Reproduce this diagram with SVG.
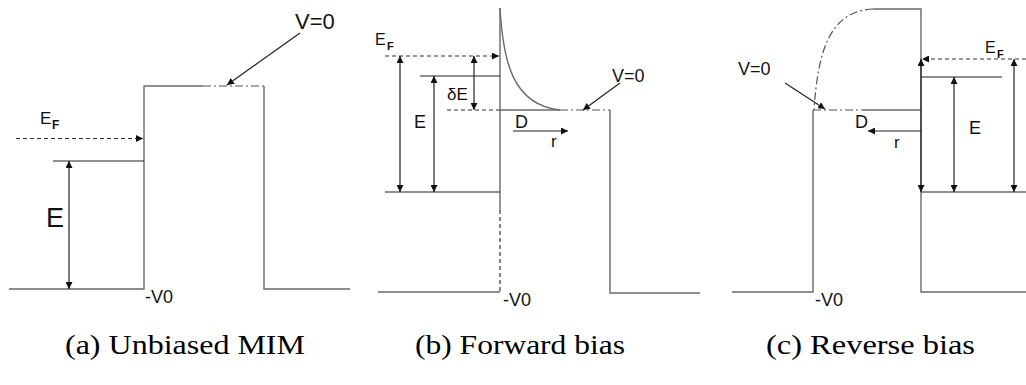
<svg xmlns="http://www.w3.org/2000/svg" width="1026" height="385" viewBox="0 0 1026 385">
<style>
.wall{fill:none;stroke:#6a6a6a;stroke-width:1.4}
.lvl{fill:none;stroke:#222;stroke-width:1.2}
.arr{fill:none;stroke:#222;stroke-width:1.2}
.dash{fill:none;stroke:#333;stroke-width:1.2;stroke-dasharray:4 3}
.dd{fill:none;stroke:#555;stroke-width:1.2;stroke-dasharray:8 3 2 3}
.lab{font-family:"Liberation Sans",Arial,sans-serif;fill:#111}
.sub{font-family:"Liberation Sans",Arial,sans-serif;font-weight:bold;fill:#111}
.cap{font-family:"Liberation Serif","Times New Roman",serif;fill:#000;font-size:28px}
</style>
<defs>
<marker id="ah" viewBox="0 0 10 10" refX="10" refY="5" markerWidth="7" markerHeight="7" markerUnits="userSpaceOnUse" orient="auto-start-reverse">
<path d="M0,0 L10,5 L0,10 z" fill="#111"/>
</marker>
</defs>

<g id="panel-a">
<path class="wall" d="M9,289 H144 V86 H203 M264,86 V289 H350"/>
<path class="dd" d="M203,86 H264"/>
<path class="lvl" d="M53,161 H144"/>
<path class="dash" d="M16,138.5 H143" marker-end="url(#ah)"/>
<path class="arr" d="M69,161 V289" marker-start="url(#ah)" marker-end="url(#ah)"/>
<path class="arr" d="M300,33 L227,85" marker-end="url(#ah)"/>
<text class="lab" x="40" y="124" font-size="17">E</text>
<text class="sub" x="52" y="129" font-size="12">F</text>
<text class="lab" x="46" y="227" font-size="27">E</text>
<text class="lab" x="295" y="29" font-size="22">V=0</text>
<text class="lab" x="145" y="303" font-size="18">-V0</text>
</g>

<g id="panel-b">
<path class="wall" d="M500,8 V210 M378,292 H500 M500,110 H560 M610,110 V293 H700"/>
<path class="dash" d="M500,210 V292 M447,110 H500"/>
<path class="dd" d="M560,110 H610"/>
<path class="wall" d="M500,8 C503,60 512,105 560,110" stroke="#555" stroke-width="1.1"/>
<path class="lvl" d="M420,76 H500 M385,192 H500"/>
<path class="dash" d="M385,56 H499" marker-end="url(#ah)"/>
<path class="arr" d="M400,56 V192" marker-start="url(#ah)" marker-end="url(#ah)"/>
<path class="arr" d="M434,76 V192" marker-start="url(#ah)" marker-end="url(#ah)"/>
<path class="arr" d="M474,56 V110" marker-start="url(#ah)" marker-end="url(#ah)"/>
<path class="arr" d="M513,131 H568" marker-end="url(#ah)"/>
<path class="arr" d="M620,83 L583,110" marker-end="url(#ah)"/>
<text class="lab" x="375" y="45" font-size="16">E</text>
<text class="sub" x="387" y="50" font-size="11">F</text>
<text class="lab" x="447" y="100" font-size="17">δE</text>
<text class="lab" x="414" y="128" font-size="18">E</text>
<text class="lab" x="515" y="128" font-size="18">D</text>
<text class="lab" x="551" y="147" font-size="17">r</text>
<text class="lab" x="612" y="82" font-size="18">V=0</text>
<text class="lab" x="503" y="306" font-size="18">-V0</text>
</g>

<g id="panel-c">
<path class="wall" d="M873,9 H921 V292 H1026 M732,292 H813 V110 M863,110 H921"/>
<path class="dd" d="M813,110 H863 M873,9 C830,11 818,50 814,110"/>
<path class="lvl" d="M921,77 H1002 M921,192 H1026"/>
<path class="dash" d="M1026,59 H922" marker-end="url(#ah)"/>
<path class="arr" d="M921,59 V192" marker-start="url(#ah)" marker-end="url(#ah)"/>
<path class="arr" d="M954,77 V192" marker-start="url(#ah)" marker-end="url(#ah)"/>
<path class="arr" d="M1014,59 V192" marker-start="url(#ah)" marker-end="url(#ah)"/>
<path class="arr" d="M921,131 H868" marker-end="url(#ah)"/>
<path class="arr" d="M785,83 L825,109" marker-end="url(#ah)"/>
<text class="lab" x="985" y="53" font-size="16">E</text>
<text class="sub" x="997" y="58" font-size="11">F</text>
<text class="lab" x="969" y="134" font-size="18">E</text>
<text class="lab" x="855" y="128" font-size="18">D</text>
<text class="lab" x="894" y="148" font-size="17">r</text>
<text class="lab" x="738" y="75" font-size="18">V=0</text>
<text class="lab" x="815" y="306" font-size="18">-V0</text>
</g>

<g id="captions">
<text class="cap" x="65" y="354" textLength="240" lengthAdjust="spacingAndGlyphs">(a) Unbiased MIM</text>
<text class="cap" x="415" y="354" textLength="210" lengthAdjust="spacingAndGlyphs">(b) Forward bias</text>
<text class="cap" x="766" y="354" textLength="209" lengthAdjust="spacingAndGlyphs">(c) Reverse bias</text>
</g>
</svg>
